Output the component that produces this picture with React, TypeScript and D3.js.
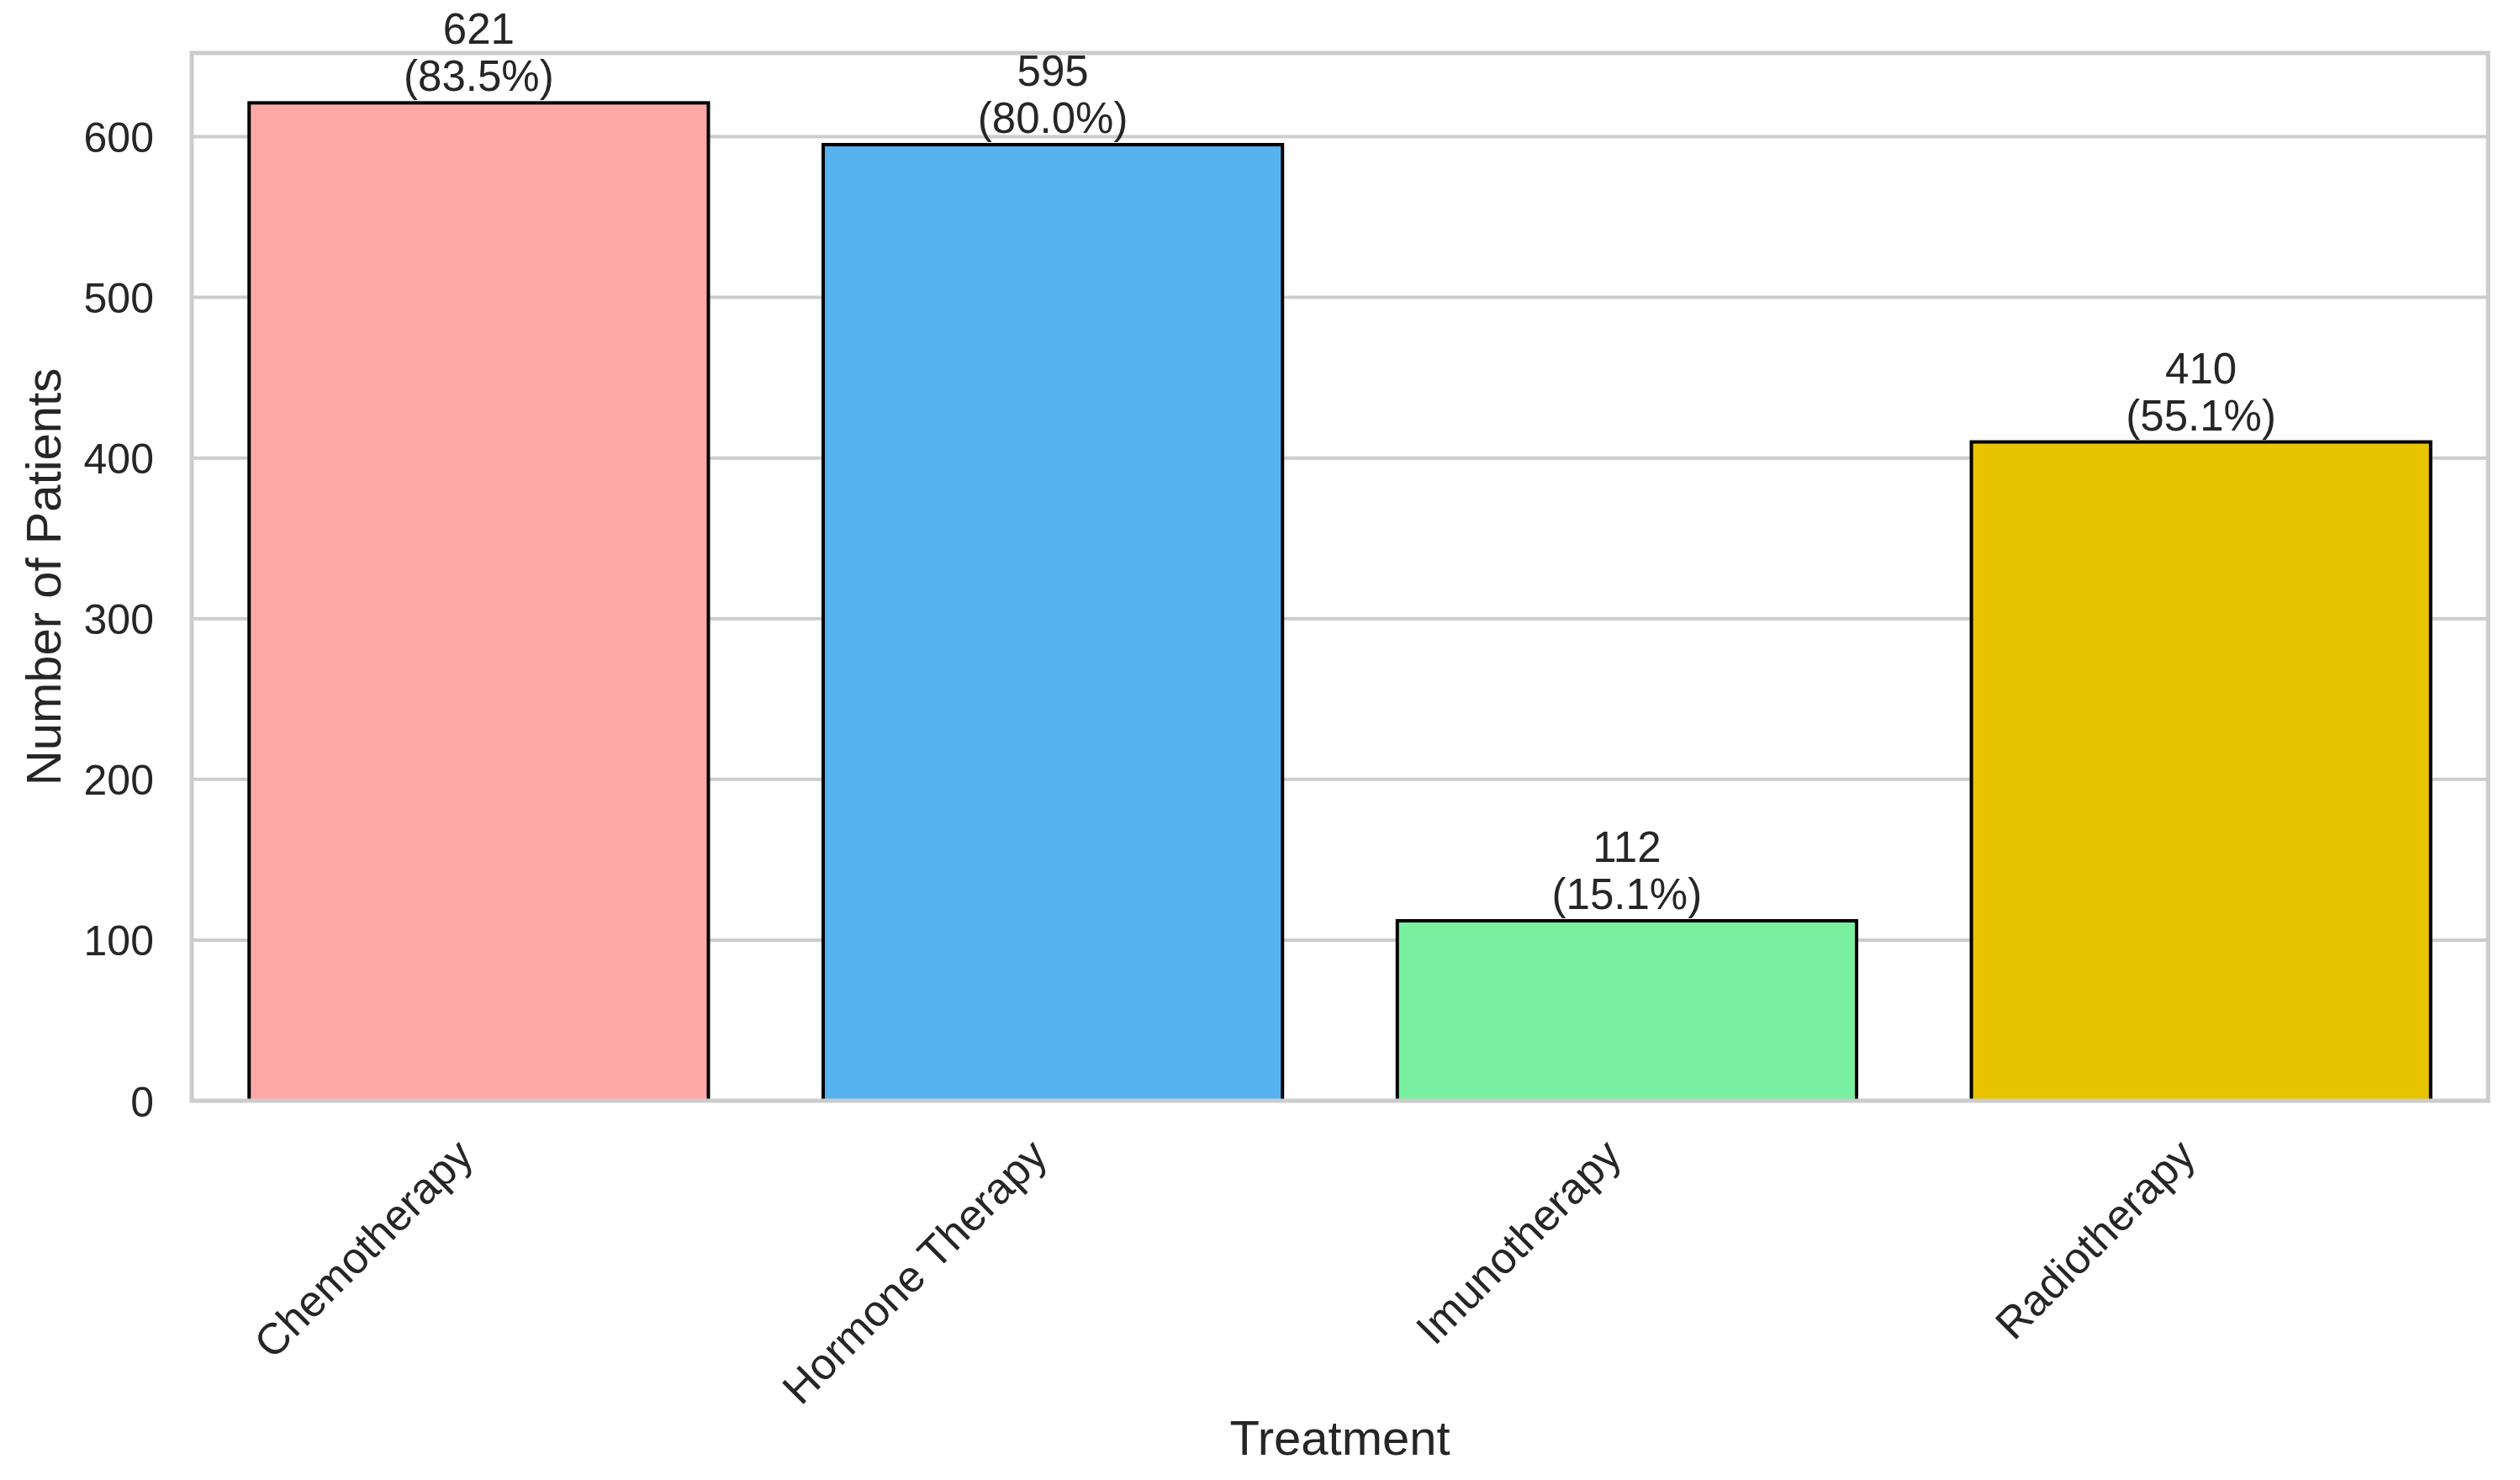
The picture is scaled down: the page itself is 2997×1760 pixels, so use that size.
import { useEffect, useRef } from 'react';
import * as d3 from 'd3';

// values
const treatments = ['Chemotherapy', 'Hormone Therapy', 'Imunotherapy', 'Radiotherapy'];
const patients = [621, 595, 112, 410];
const percents = ['83.5', '80.0', '15.1', '55.1'];
const barColors = ['#ffa8a8', '#56b3f0', '#78f0a0', '#e8c300'];
const yTicks = [0, 100, 200, 300, 400, 500, 600];

const W = 2997;
const H = 1760;
const FONT = '"Liberation Sans", Arial, Helvetica, sans-serif';
const TEXT = '#262626';

export default function App() {
  const svgRef = useRef<SVGSVGElement>(null);

  useEffect(() => {
    if (!svgRef.current) return;
    const root = d3.select(svgRef.current);
    root.selectAll('*').remove();

    const margin = { top: 63, right: 38, bottom: 451, left: 228 };
    const width = W - margin.left - margin.right;
    const height = H - margin.top - margin.bottom;

    const svg = root
      .append('g')
      .attr('transform', `translate(${margin.left},${margin.top})`);

    const x = d3
      .scaleBand()
      .domain(treatments)
      .range([0, width])
      .paddingInner(0.2)
      .paddingOuter(0.1);

    // matplotlib autoscale: 5% headroom above the tallest bar
    const y = d3
      .scaleLinear()
      .domain([0, (d3.max(patients) as number) * 1.05])
      .range([height, 0]);

    // grid lines (behind bars)
    svg
      .append('g')
      .selectAll('line')
      .data(yTicks)
      .enter()
      .append('line')
      .attr('x1', 0)
      .attr('x2', width)
      .attr('y1', (d) => y(d))
      .attr('y2', (d) => y(d))
      .attr('stroke', '#cccccc')
      .attr('stroke-width', 4);

    const rows = treatments.map((t, i) => ({
      name: t,
      value: patients[i],
      pct: percents[i],
      color: barColors[i],
    }));

    // bars
    svg
      .selectAll('.bar')
      .data(rows)
      .enter()
      .append('rect')
      .attr('class', 'bar')
      .attr('x', (d) => x(d.name) || 0)
      .attr('y', (d) => y(d.value))
      .attr('width', x.bandwidth())
      .attr('height', (d) => height - y(d.value))
      .attr('fill', (d) => d.color)
      .attr('stroke', '#000')
      .attr('stroke-width', 4);

    // value labels
    const labels = svg
      .selectAll('.value-label')
      .data(rows)
      .enter()
      .append('text')
      .attr('class', 'value-label')
      .attr('text-anchor', 'middle')
      .attr('font-family', FONT)
      .attr('font-size', 51)
      .attr('fill', TEXT);
    labels
      .append('tspan')
      .attr('x', (d) => (x(d.name) || 0) + x.bandwidth() / 2)
      .attr('y', (d) => y(d.value) - 70)
      .text((d) => `${d.value}`);
    labels
      .append('tspan')
      .attr('x', (d) => (x(d.name) || 0) + x.bandwidth() / 2)
      .attr('y', (d) => y(d.value) - 14)
      .text((d) => `(${d.pct}%)`);

    // y axis
    const yAxis = svg
      .append('g')
      .call(d3.axisLeft(y).tickValues(yTicks).tickSize(0).tickPadding(45));
    yAxis
      .selectAll('text')
      .attr('font-family', FONT)
      .attr('font-size', 50)
      .attr('fill', TEXT)
      .attr('dy', '0.36em');

    // x axis
    const xAxis = svg
      .append('g')
      .attr('transform', `translate(0,${height})`)
      .call(d3.axisBottom(x).tickSize(0));
    xAxis
      .selectAll('text')
      .attr('font-family', FONT)
      .attr('font-size', 52)
      .attr('fill', TEXT)
      .attr('x', 0)
      .attr('y', 0)
      .attr('dy', null)
      .style('text-anchor', 'end')
      .attr('transform', 'translate(-4,68) rotate(-45)');

    root.selectAll('.domain').remove();
    root.selectAll('.tick line').remove();

    // frame (spines sit above the bars)
    svg
      .append('rect')
      .attr('x', 0)
      .attr('y', 0)
      .attr('width', width)
      .attr('height', height)
      .attr('fill', 'none')
      .attr('stroke', '#cccccc')
      .attr('stroke-width', 5);

    // axis titles
    svg
      .append('text')
      .attr('x', width / 2)
      .attr('y', H - margin.top - 30)
      .attr('text-anchor', 'middle')
      .attr('font-family', FONT)
      .attr('font-size', 58)
      .attr('fill', TEXT)
      .text('Treatment');

    svg
      .append('text')
      .attr('transform', `translate(${72 - margin.left},${height / 2}) rotate(-90)`)
      .attr('text-anchor', 'middle')
      .attr('font-family', FONT)
      .attr('font-size', 58)
      .attr('fill', TEXT)
      .text('Number of Patients');
  }, []);

  return (
    <svg
      ref={svgRef}
      width={W}
      height={H}
      style={{ position: 'absolute', left: 0, top: 0, background: '#fff' }}
    />
  );
}
